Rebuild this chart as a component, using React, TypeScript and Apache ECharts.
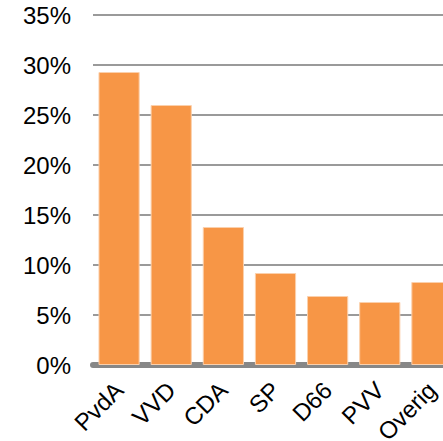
import React, { useEffect, useRef } from "react";
import * as echarts from "echarts";

const categories = ["PvdA", "VVD", "CDA", "SP", "D66", "PVV", "Overig"];
const values = [29.3, 26.0, 13.8, 9.2, 6.9, 6.3, 8.3];
const yTicks = { min: 0, max: 35, interval: 5 };

export default function App() {
  const ref = useRef<HTMLDivElement>(null);
  useEffect(() => {
    const chart = echarts.init(ref.current!, null, { renderer: "svg" });
    chart.setOption({
      animation: false,
      grid: { left: 93, right: 0, top: 15, bottom: 76, containLabel: false, outerBoundsMode: "none" },
      xAxis: {
        type: "category",
        data: categories,
        axisLine: { show: true, lineStyle: { color: "#878787", width: 6 } },
        axisTick: { show: false },
        axisLabel: {
          rotate: 45,
          interval: 0,
          margin: 21,
          fontSize: 24,
          color: "#000",
          fontFamily: "Liberation Sans, Arial, sans-serif",
        },
      },
      yAxis: {
        type: "value",
        min: yTicks.min,
        max: yTicks.max,
        interval: yTicks.interval,
        axisLine: { show: false },
        axisTick: { show: false },
        splitLine: { lineStyle: { color: "#9a9a9a", width: 2 } },
        axisLabel: {
          formatter: "{value}%",
          margin: 22,
          fontSize: 24,
          color: "#000",
          fontFamily: "Liberation Sans, Arial, sans-serif",
        },
      },
      series: [
        {
          type: "bar",
          data: values,
          barCategoryGap: "21%",
          itemStyle: { color: "#F79646", borderColor: "#FBD0AC", borderWidth: 1 },
        },
      ],
    });
    return () => chart.dispose();
  }, []);
  return (
    <div style={{ position: "absolute", left: 0, top: 0, width: 443, height: 441, overflow: "hidden" }}>
      <div ref={ref} style={{ width: 458, height: 441 }} />
    </div>
  );
}
